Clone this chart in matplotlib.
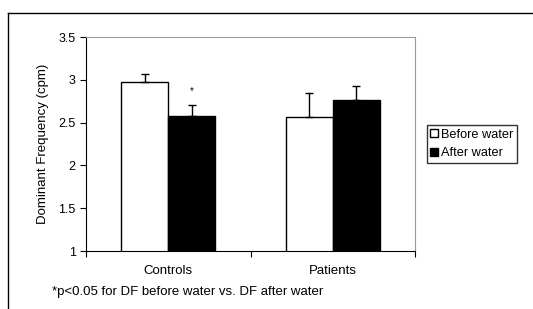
import matplotlib
matplotlib.use('Agg')
import matplotlib.pyplot as plt
import numpy as np

plt.rcParams['font.family'] = ['Liberation Sans', 'DejaVu Sans']

groups = ['Controls', 'Patients']
before = [2.98, 2.57]
after = [2.58, 2.76]
before_err = [0.09, 0.27]
after_err = [0.12, 0.17]

W, H = 533, 309
fig = plt.figure(figsize=(W / 100, H / 100), dpi=100)

# outer frame (top and left lines only visible)
fig.add_artist(plt.Line2D([8 / W, 1], [1 - 13 / H, 1 - 13 / H], color='black', lw=1))
fig.add_artist(plt.Line2D([8 / W, 8 / W], [0, 1 - 13 / H], color='black', lw=1))

ax = fig.add_axes([86 / W, 1 - 251 / H, (415 - 86) / W, (251 - 37) / H])

x = np.arange(len(groups))
w = 0.285
ekw = dict(ecolor='black', elinewidth=1)
ax.bar(x - w / 2, before, w, color='white', edgecolor='black', lw=1,
       yerr=[np.zeros(2), before_err], capsize=2.6, error_kw=ekw, label='Before water')
ax.bar(x + w / 2, after, w, color='black', edgecolor='black', lw=1,
       yerr=[np.zeros(2), after_err], capsize=2.6, error_kw=ekw, label='After water')

ax.text(x[0] + w / 2, 2.87, '*', ha='center', va='center', fontsize=7)

ax.set_xlim(-0.5, 1.5)
ax.set_ylim(1, 3.5)
ax.set_yticks([1, 1.5, 2, 2.5, 3, 3.5])
ax.set_yticklabels(['1', '1.5', '2', '2.5', '3', '3.5'], fontsize=9)
ax.set_xticks([-0.5, 0.5, 1.5])
ax.set_xticklabels([])
ax.set_xticks(x, minor=True)
ax.set_xticklabels(groups, minor=True, fontsize=9.5)
ax.tick_params(axis='x', which='minor', length=0, pad=10)
ax.tick_params(axis='both', which='major', length=4, direction='out')
ax.spines['top'].set_color('#999999')
ax.spines['right'].set_color('#999999')
ax.set_ylabel('Dominant Frequency (cpm)', fontsize=9.5, labelpad=7)

leg = ax.legend(loc='center left', bbox_to_anchor=(1.035, 0.5), fontsize=9.2, frameon=True,
                fancybox=False, edgecolor='black', handlelength=0.6, handleheight=0.6,
                handletextpad=0.2, borderpad=0.3, borderaxespad=0, labelspacing=0.5)
leg.get_frame().set_linewidth(1)

fig.text(52 / W, 1 - 292 / H, '*p<0.05 for DF before water vs. DF after water',
         fontsize=9.5, va='center', ha='left')

fig.savefig('out.png', dpi=100)
